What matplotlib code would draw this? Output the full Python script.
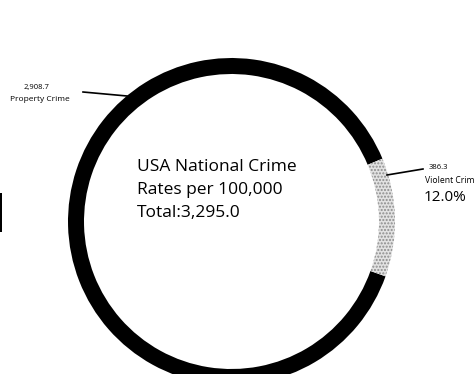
import numpy as np
import matplotlib
matplotlib.use('Agg')
import matplotlib.pyplot as plt
from matplotlib.patches import Rectangle

plt.rcParams['font.family'] = ['Open Sans', 'DejaVu Sans']

labels = ["Property Crime", "Violent Crime"]
values = [2908.7, 386.3]
pct_text = ["", "12.0%"]   # as printed on the chart
colors = ["black", "#e2e2e2"]
total = sum(values)

W, H = 475, 374
fig = plt.figure(figsize=(W/100., H/100.), dpi=100)
ax = fig.add_axes([0, 0, 1, 1])

cx, cy, r = 231.5, H - 221.5, 163.5
share = values[1]/total
start = 1.5 + share*180.  # violent wedge sits just above 3 o'clock
wedges, _ = ax.pie(values, colors=colors, startangle=start, counterclock=True,
                   radius=r, center=(cx, cy), frame=True,
                   wedgeprops=dict(width=16, linewidth=0))
ax.set_xlim(0, W)
ax.set_ylim(0, H)
ax.axis('off')
wedges[1].set_hatch('.....')
wedges[1].set_edgecolor('#8c8c8c')
wedges[1].set_linewidth(0)

# centre text
ax.text(137, H-167, "USA National Crime", fontsize=12.5, va='center', ha='left')
ax.text(137, H-190, "Rates per 100,000", fontsize=12.5, va='center', ha='left')
ax.text(137, H-213, "Total:{:,.1f}".format(total), fontsize=12.5, va='center', ha='left')

# property label
ax.plot([83, 127], [H-92, H-96], color='black', lw=1.2)
ax.text(36, H-87, "{:,.1f}".format(values[0]), fontsize=5.5, ha='center', va='center')
ax.text(40, H-99, labels[0], fontsize=6, ha='center', va='center')

# violent label (runs off the right edge, as in the original)
ax.plot([387, 423], [H-175, H-169], color='black', lw=1.2)
ax.text(438, H-167, "{:,.1f}".format(values[1]), fontsize=5.5, ha='center', va='center')
ax.text(425, H-180, labels[1], fontsize=6.2, ha='left', va='center')
ax.text(424, H-197, pct_text[1], fontsize=11, ha='left', va='center')

# cropped fragment at left edge
ax.add_patch(Rectangle((0, H-232), 2, 39, color='black', lw=0))

fig.savefig("out.png", dpi=100)
